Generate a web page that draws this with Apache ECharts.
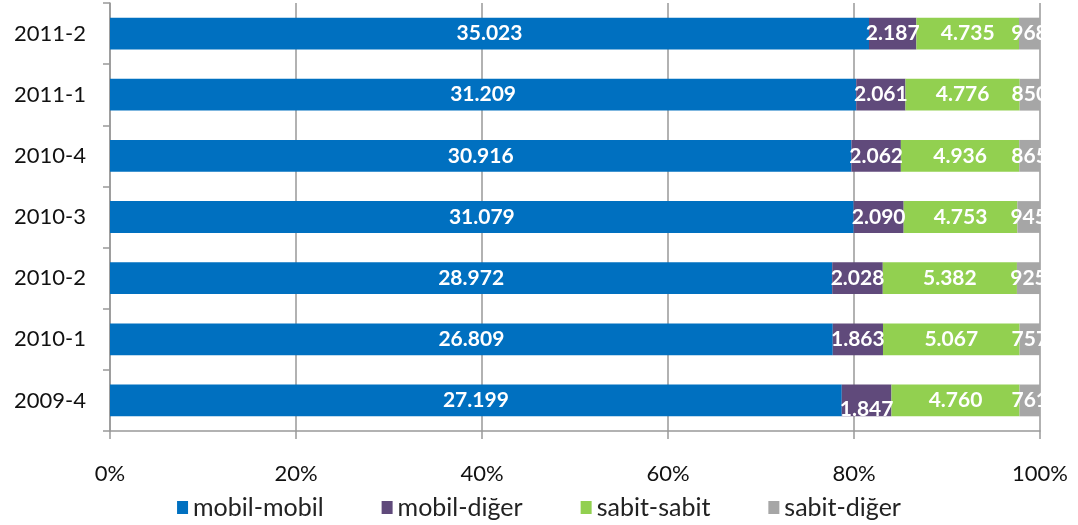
<!DOCTYPE html>
<html>
<head>
<meta charset="utf-8">
<script src="https://cdn.jsdelivr.net/npm/echarts@6/dist/echarts.min.js"></script>
<style>
  html, body { margin: 0; padding: 0; background: #fff; }
  #chart { width: 1078px; height: 525px; }
</style>
</head>
<body>
<div id="chart"></div>
<script>
// periods, bottom to top
const periods = ['2009-4', '2010-1', '2010-2', '2010-3', '2010-4', '2011-1', '2011-2']
const mobilMobil = [27199, 26809, 28972, 31079, 30916, 31209, 35023]
const mobilDiger = [1847, 1863, 2028, 2090, 2062, 2061, 2187]
const sabitSabit = [4760, 5067, 5382, 4753, 4936, 4776, 4735]
const sabitDiger = [761, 757, 925, 945, 865, 850, 968]
const xTicks = [0, 20, 40, 60, 80, 100]

const seriesNames = ['mobil-mobil', 'mobil-diğer', 'sabit-sabit', 'sabit-diğer']
const seriesData = [mobilMobil, mobilDiger, sabitSabit, sabitDiger]
const colors = ['#0070C0', '#604A7B', '#92D050', '#A6A6A6']

const totals = periods.map((p, i) => seriesData.reduce((s, arr) => s + arr[i], 0))

function fmt(v) {
  // turkish thousands separator
  return String(v).replace(/\B(?=(\d{3})+(?!\d))/g, '.')
}

const chart = echarts.init(document.getElementById('chart'))

const srs = seriesData.map((arr, k) => ({
  name: seriesNames[k],
  type: 'bar',
  stack: 'total',
  barWidth: '52%',
  itemStyle: { color: colors[k] },
  label: {
    show: true,
    position: 'inside',
    color: '#fff',
    fontWeight: 'bold',
    fontSize: 21,
    fontFamily: 'Lato',
    formatter: p => fmt(p.data.raw)
  },
  labelLayout: p => (p.seriesIndex === 1 && p.dataIndex === 0 ? { dy: 9 } : {}),
  data: arr.map((v, i) => ({ value: v / totals[i] * 100, raw: v }))
}))

chart.setOption({
  animation: false,
  textStyle: { fontFamily: 'Lato' },
  grid: { left: 110, right: 38, top: 3, bottom: 94 },
  legend: {
    bottom: 0,
    left: 'center',
    itemWidth: 11,
    itemHeight: 13,
    itemGap: 58,
    icon: 'rect',
    textStyle: { fontSize: 25, color: '#222', fontFamily: 'Lato' },
    data: seriesNames
  },
  xAxis: {
    type: 'value',
    min: 0,
    max: 100,
    interval: 20,
    axisLine: { show: true, lineStyle: { color: '#999', width: 1.5 } },
    axisTick: { show: true, length: 8, lineStyle: { color: '#999', width: 1.5 } },
    splitLine: { show: true, lineStyle: { color: '#999', width: 1.5 } },
    axisLabel: {
      margin: 32,
      fontSize: 22,
      color: '#111',
      fontFamily: 'Lato',
      formatter: v => (xTicks.indexOf(v) >= 0 ? v + '%' : '')
    }
  },
  yAxis: {
    type: 'category',
    data: periods,
    axisLine: { show: true, lineStyle: { color: '#999', width: 1.5 } },
    axisTick: { show: true, length: 7, lineStyle: { color: '#999', width: 1.5 } },
    axisLabel: { margin: 24, fontSize: 22, color: '#111', fontFamily: 'Lato' }
  },
  series: srs
})
</script>
</body>
</html>
